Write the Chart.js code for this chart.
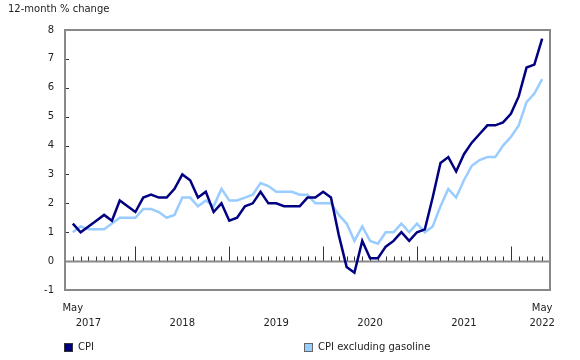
<!DOCTYPE html>
<html>
<head>
<meta charset="utf-8">
<script src="https://cdn.jsdelivr.net/npm/chart.js@4.4.1/dist/chart.umd.min.js"></script>
<style>
    body { margin: 0; background: #fff; font-family: "DejaVu Sans", Verdana, sans-serif; }
    #wrap { position: relative; width: 580px; height: 360px; }
    #chart { position: absolute; left: 0; top: 0; }
    .ytitle { position: absolute; left: 8px; top: 3px; font-size: 10px; color: #222; }
    .legend { position: absolute; top: 341px; font-size: 10px; color: #222; display: flex; align-items: center; line-height: 12px; }
    .legend i { display: inline-block; width: 7px; height: 7px; margin-right: 5px; border: 1px solid #333; }
</style>
</head>
<body>
<div id="wrap">
    <canvas id="chart" width="580" height="360"></canvas>
    <div class="ytitle">12-month % change</div>
    <div class="legend" style="left:64px"><i style="background:#000080"></i>CPI</div>
    <div class="legend" style="left:304px"><i style="background:#99ccff;border-color:#666"></i>CPI excluding gasoline</div>
</div>
<script>
// monthly, May 2017 to May 2022
const startYear = 2017, startMonth = 5;

const cpi = [
    1.3, 1.0, 1.2, 1.4, 1.6, 1.4, 2.1, 1.9,                  // 2017
    1.7, 2.2, 2.3, 2.2, 2.2, 2.5, 3.0, 2.8, 2.2, 2.4, 1.7, 2.0, // 2018
    1.4, 1.5, 1.9, 2.0, 2.4, 2.0, 2.0, 1.9, 1.9, 1.9, 2.2, 2.2, // 2019
    2.4, 2.2, 0.9, -0.2, -0.4, 0.7, 0.1, 0.1, 0.5, 0.7, 1.0, 0.7, // 2020
    1.0, 1.1, 2.2, 3.4, 3.6, 3.1, 3.7, 4.1, 4.4, 4.7, 4.7, 4.8, // 2021
    5.1, 5.7, 6.7, 6.8, 7.7                                   // 2022
];

const cpiExGas = [
    1.0, 1.2, 1.1, 1.1, 1.1, 1.3, 1.5, 1.5,
    1.5, 1.8, 1.8, 1.7, 1.5, 1.6, 2.2, 2.2, 1.9, 2.1, 1.9, 2.5,
    2.1, 2.1, 2.2, 2.3, 2.7, 2.6, 2.4, 2.4, 2.4, 2.3, 2.3, 2.0,
    2.0, 2.0, 1.6, 1.3, 0.7, 1.2, 0.7, 0.6, 1.0, 1.0, 1.3, 1.0,
    1.3, 1.0, 1.2, 1.9, 2.5, 2.2, 2.8, 3.3, 3.5, 3.6, 3.6, 4.0,
    4.3, 4.7, 5.5, 5.8, 6.3
];

const yTicks = [-1, 0, 1, 2, 3, 4, 5, 6, 7, 8];

// month of each point (1-12) and year
const monthOf = i => (startMonth - 1 + i) % 12 + 1;
const yearOf = i => startYear + Math.floor((startMonth - 1 + i) / 12);
const last = cpi.length - 1;

// label ticks: "May" at both ends, year under July (or last point for the final year)
const labelTicks = [];
for (let i = 0; i <= last; i++) {
    if (i === 0 || i === last || monthOf(i) === 7) labelTicks.push(i);
}

const frame = {
    id: 'frame',
    beforeDatasetsDraw(chart) {
        const { ctx, chartArea: a, scales: { x, y } } = chart;
        ctx.save();
        const y0 = Math.round(y.getPixelForValue(0)) + 0.5;

        // month ticks on the zero line
        ctx.strokeStyle = '#333';
        ctx.lineWidth = 1;
        ctx.beginPath();
        for (let i = 0; i <= last; i++) {
            const px = Math.round(x.getPixelForValue(i)) + 0.5;
            const len = monthOf(i) === 1 ? 15 : 5;
            ctx.moveTo(px, y0);
            ctx.lineTo(px, y0 - len);
        }
        // short y ticks inside the left edge
        yTicks.forEach(v => {
            const py = Math.round(y.getPixelForValue(v)) + 0.5;
            ctx.moveTo(a.left, py);
            ctx.lineTo(a.left + 4, py);
        });
        ctx.stroke();

        ctx.strokeStyle = '#888';
        ctx.lineWidth = 2;
        ctx.beginPath();
        ctx.moveTo(a.left, y0);
        ctx.lineTo(a.right, y0);
        ctx.stroke();
        ctx.strokeRect(a.left, a.top, a.right - a.left, a.bottom - a.top);
        ctx.restore();
    }
};

Chart.defaults.font.family = "'DejaVu Sans', Verdana, sans-serif";
Chart.defaults.font.size = 10;
Chart.defaults.color = '#222';

new Chart(document.getElementById('chart'), {
    type: 'line',
    data: {
        datasets: [{
            label: 'CPI',
            data: cpi.map((v, i) => ({ x: i, y: v })),
            borderColor: '#000080',
            borderWidth: 2.5
        }, {
            label: 'CPI excluding gasoline',
            data: cpiExGas.map((v, i) => ({ x: i, y: v })),
            borderColor: '#99ccff',
            borderWidth: 2.5
        }]
    },
    options: {
        responsive: false,
        animation: false,
        layout: { padding: { top: 30, right: 30, bottom: 30, left: 0 } },
        elements: { point: { radius: 0 }, line: { tension: 0 } },
        scales: {
            x: {
                type: 'linear',
                min: -1,
                max: last + 1,
                grid: { display: false, drawTicks: false },
                border: { display: false },
                afterFit: s => { s.height = 40; },
                afterBuildTicks: s => { s.ticks = labelTicks.map(v => ({ value: v })); },
                ticks: {
                    autoSkip: false,
                    maxRotation: 0,
                    padding: 11,
                    font: { lineHeight: 1.5 },
                    callback: v => {
                        const yr = String(yearOf(v));
                        if (v === 0) return ['May', ''];
                        if (v === last) return ['May', yr];
                        return ['', yr];
                    }
                }
            },
            y: {
                min: -1,
                max: 8,
                grid: { display: false, drawTicks: false },
                border: { display: false },
                afterFit: s => { s.width = 65; },
                afterBuildTicks: s => { s.ticks = yTicks.map(v => ({ value: v })); },
                ticks: { padding: 11 }
            }
        },
        plugins: {
            legend: { display: false },
            tooltip: { enabled: false }
        }
    },
    plugins: [frame]
});
</script>
</body>
</html>
